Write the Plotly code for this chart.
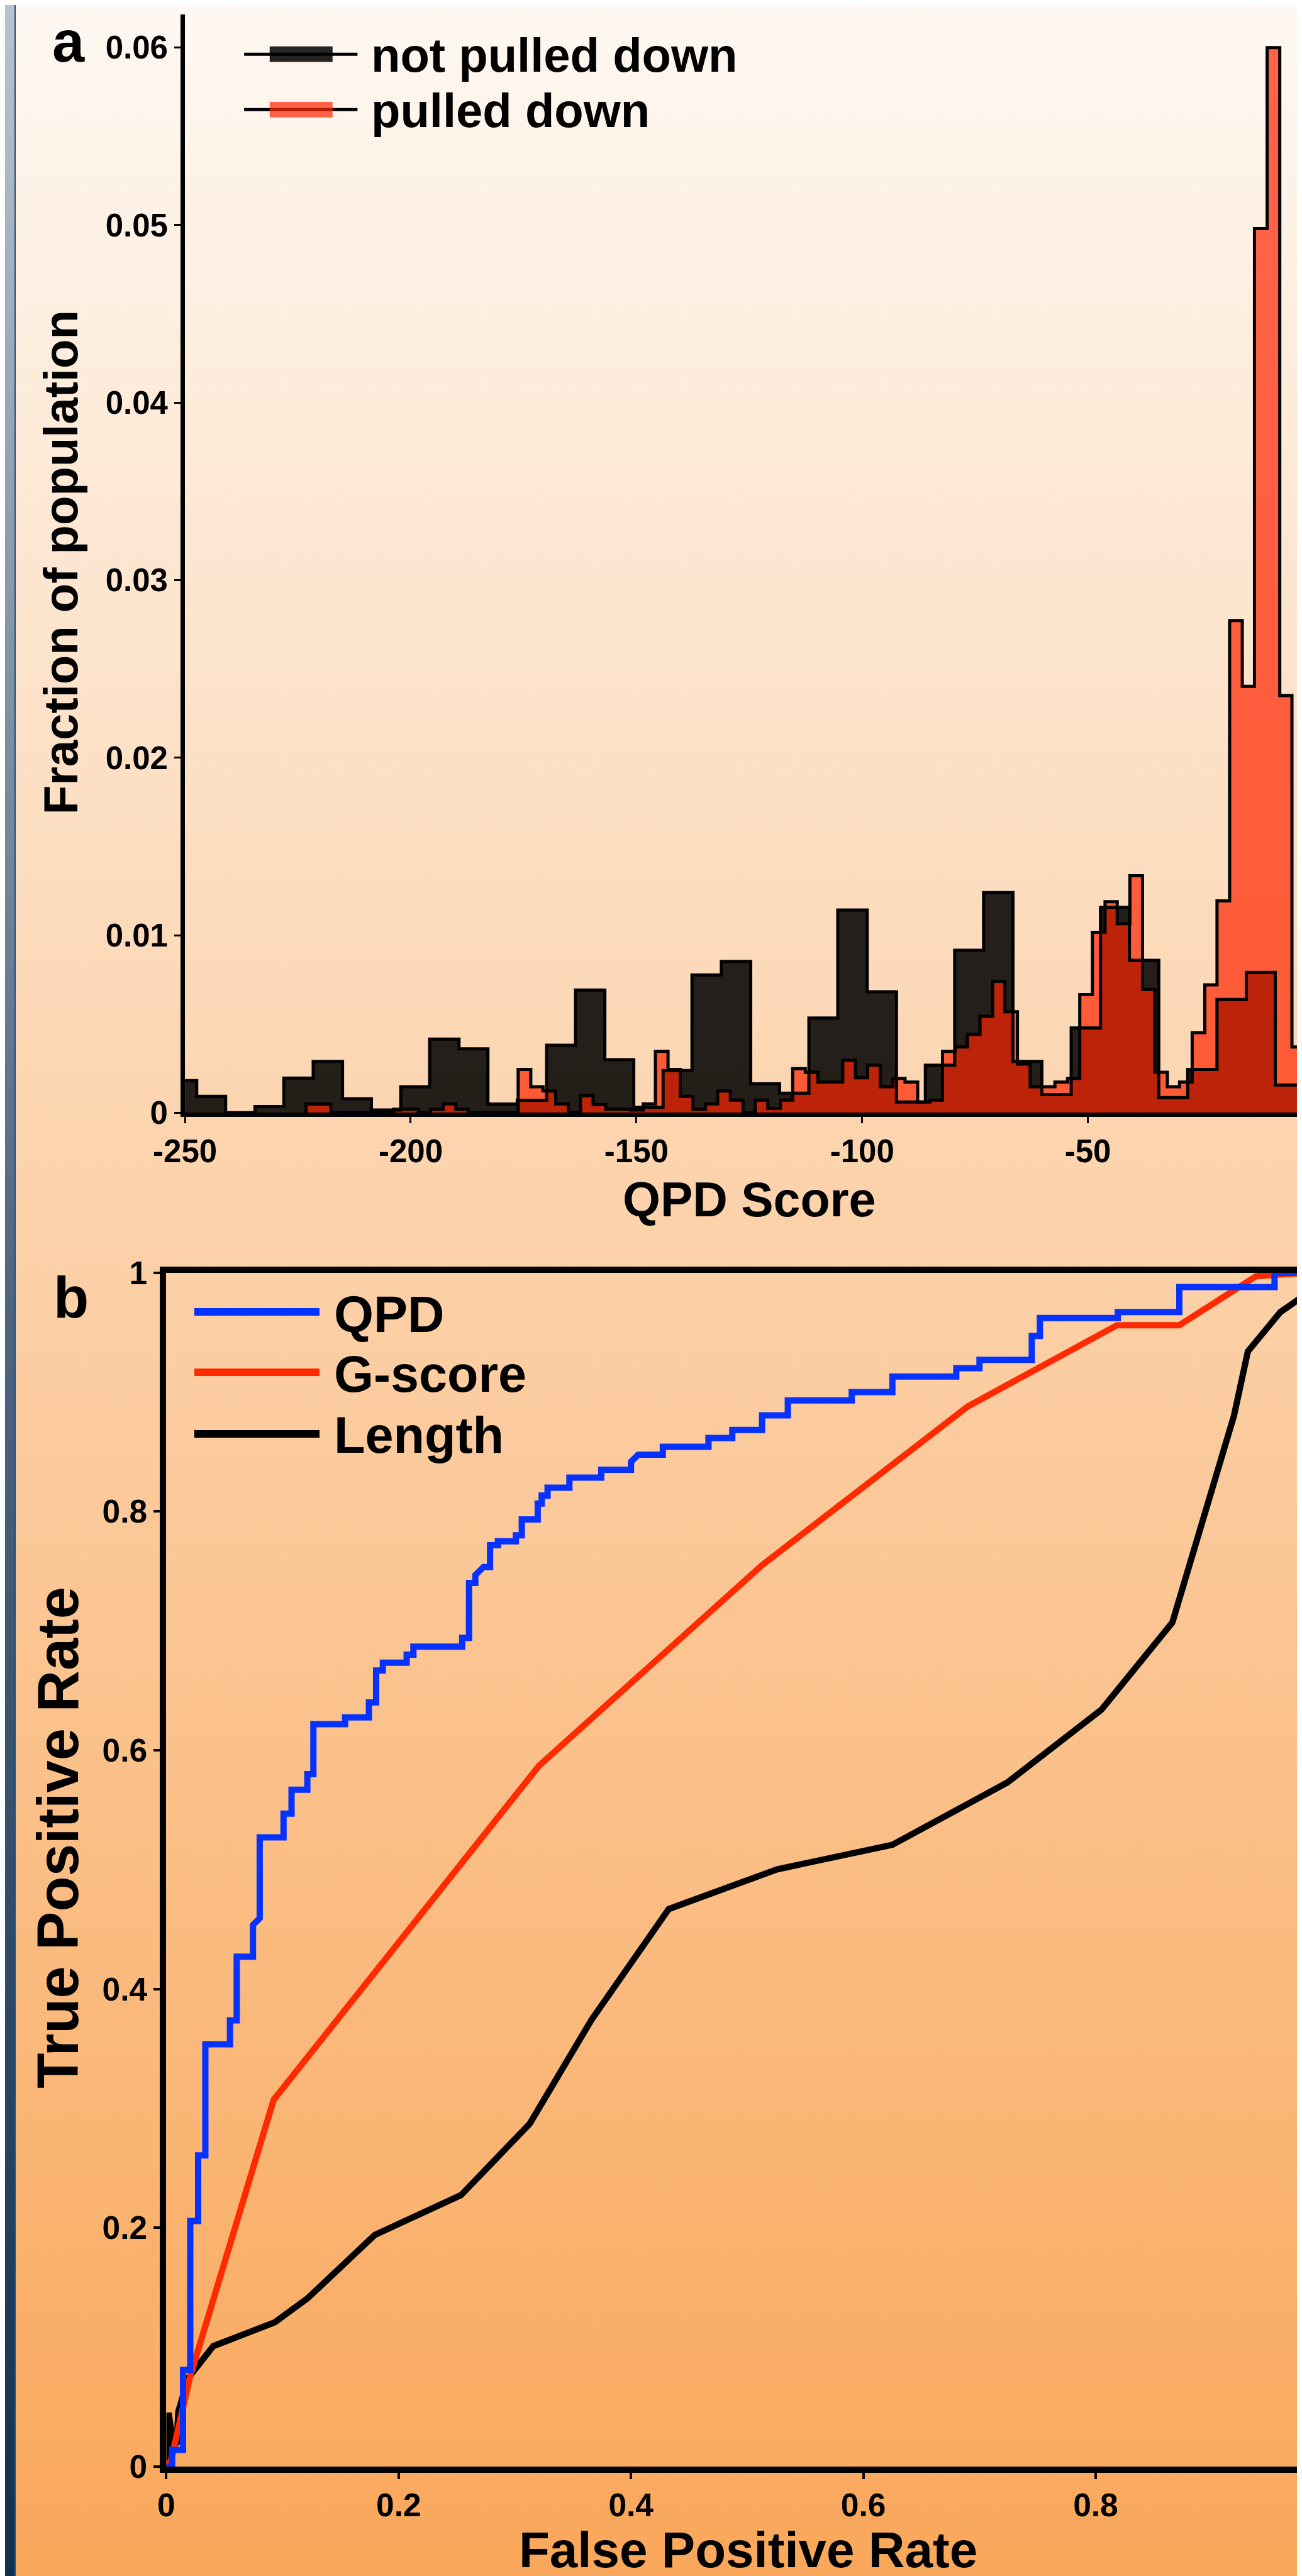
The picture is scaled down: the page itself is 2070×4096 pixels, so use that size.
import base64
import plotly.graph_objects as go

W, H = 2070, 4096
S = 0.99

# ---------------- Panel a data (histograms) ----------------
not_pd_left = [-253.9, -247.4, -241.0, -234.5, -228.1, -221.6, -215.1, -208.7, -202.2, -195.8,
               -189.3, -182.9, -176.4, -169.9, -163.5, -157.0, -150.6, -144.1, -137.7, -131.2,
               -124.7, -118.3, -111.8, -105.4, -98.9, -92.4, -86.0, -79.5, -73.1, -66.6,
               -60.2, -53.7, -47.2, -40.8, -34.3, -27.9, -21.4, -14.9, -8.5, -2.0]
not_pd_right_end = 4.5
not_pd_vals = [0.00181, 0.00092, 0.0, 0.00035, 0.00195, 0.00289, 0.00079, 0.00015, 0.00146, 0.00415,
               0.0036, 0.00049, 0.0007, 0.0038, 0.00691, 0.00299, 0.0003, 0.00238, 0.00776, 0.00852,
               0.00163, 0.0011, 0.00533, 0.01142, 0.00681, 0.0006, 0.00268, 0.00915, 0.0124, 0.00289,
               0.00102, 0.00478, 0.01157, 0.00858, 0.00085, 0.00244, 0.00638, 0.0079, 0.00156, 0.0005]

pd_left = [-223.2, -220.4, -217.7, -214.9, -212.1, -209.4, -206.6, -203.8, -201.1, -198.3,
           -195.6, -192.8, -190.0, -187.3, -184.5, -181.7, -179.0, -176.2, -173.4, -170.7,
           -167.9, -165.1, -162.4, -159.6, -156.8, -154.1, -151.3, -148.5, -145.8, -143.0,
           -140.3, -137.5, -134.7, -132.0, -129.2, -126.4, -123.7, -120.9, -118.1, -115.4,
           -112.6, -109.8, -107.1, -104.3, -101.5, -98.8, -96.0, -93.2, -90.5, -87.7,
           -85.0, -82.2, -79.4, -76.7, -73.9, -71.1, -68.4, -65.6, -62.8, -60.1,
           -57.3, -54.5, -51.8, -49.0, -46.2, -43.5, -40.7, -37.9, -35.2, -32.4,
           -29.7, -26.9, -24.1, -21.4, -18.6, -15.8, -13.1, -10.3, -7.5, -4.8,
           -2.0]
pd_right_end = 0.8
pd_vals = [0.00049, 0.00049, 0.0, 0.0, 0.0, 0.0, 0.0, 0.0002, 0.0002, 0.0,
           0.0002, 0.0005, 0.0002, 0.0, 0.0, 0.0, 0.0, 0.00244, 0.00146, 0.00122,
           0.0005, 0.0, 0.00096, 0.00045, 0.0002, 0.0002, 0.00015, 0.0005, 0.00346, 0.00244,
           0.00091, 0.0002, 0.0005, 0.00122, 0.00071, 0.0, 0.00071, 0.00024, 0.00071, 0.00248,
           0.00228, 0.00173, 0.00173, 0.00295, 0.00197, 0.00268, 0.00146, 0.00193, 0.00173, 0.0006,
           0.00071, 0.00346, 0.0037, 0.00441, 0.00543, 0.0074, 0.00569, 0.00274, 0.00146, 0.00146,
           0.00173, 0.00193, 0.00665, 0.01016, 0.01189, 0.01065, 0.01335, 0.00695, 0.00228, 0.00146,
           0.00173, 0.00451, 0.0072, 0.01193, 0.02772, 0.02402, 0.0498, 0.0600, 0.0235, 0.0037,
           0.0035]

hist_xticks = [-250, -200, -150, -100, -50]
hist_yticks = [0, 0.01, 0.02, 0.03, 0.04, 0.05, 0.06]
hist_yticktext = ['0', '0.01', '0.02', '0.03', '0.04', '0.05', '0.06']

# ---------------- Panel b data (ROC curves) ----------------
qpd_fpr = [0, 0.005, 0.005, 0.0144, 0.0144, 0.0206, 0.0206, 0.0274, 0.0274, 0.0336,
           0.0336, 0.0548, 0.0548, 0.0606, 0.0606, 0.0746, 0.0746, 0.0804, 0.0804, 0.1009,
           0.1009, 0.1078, 0.1078, 0.1214, 0.1214, 0.1266, 0.1266, 0.1539, 0.1539, 0.1744,
           0.1744, 0.1806, 0.1806, 0.1864, 0.1864, 0.2069, 0.2069, 0.2127, 0.2127, 0.2547,
           0.2547, 0.2606, 0.2606, 0.2660, 0.2660, 0.2729, 0.2787, 0.2787, 0.2855, 0.2855,
           0.3009, 0.3009, 0.3060, 0.3060, 0.3197, 0.3197, 0.3231, 0.3231, 0.3282, 0.3282,
           0.3470, 0.3470, 0.3744, 0.3744, 0.4000, 0.4000, 0.4062, 0.4274, 0.4274, 0.4667,
           0.4667, 0.4872, 0.4872, 0.5128, 0.5128, 0.535, 0.535, 0.59, 0.59, 0.625,
           0.625, 0.68, 0.68, 0.70, 0.70, 0.745, 0.745, 0.752, 0.752, 0.819,
           0.819, 0.872, 0.872, 0.954, 0.954, 1.0]
qpd_tpr = [0, 0.0, 0.014, 0.014, 0.081, 0.081, 0.2057, 0.2057, 0.2606, 0.2606,
           0.3538, 0.3538, 0.3738, 0.3738, 0.4271, 0.4271, 0.4537, 0.4593, 0.527, 0.527,
           0.547, 0.547, 0.567, 0.567, 0.580, 0.580, 0.6218, 0.6218, 0.6275, 0.6275,
           0.6401, 0.6401, 0.6668, 0.6668, 0.6734, 0.6734, 0.6801, 0.6801, 0.6868, 0.6868,
           0.6941, 0.6941, 0.7401, 0.7401, 0.7467, 0.7534, 0.7534, 0.7717, 0.7717, 0.7750,
           0.7750, 0.7800, 0.7800, 0.7933, 0.7933, 0.8066, 0.8066, 0.8133, 0.8133, 0.8199,
           0.8199, 0.8283, 0.8283, 0.8349, 0.8349, 0.8416, 0.8476, 0.8476, 0.8542, 0.8542,
           0.8615, 0.8615, 0.8682, 0.8682, 0.8805, 0.8805, 0.893, 0.893, 0.900, 0.900,
           0.913, 0.913, 0.920, 0.920, 0.927, 0.927, 0.947, 0.947, 0.962, 0.962,
           0.967, 0.967, 0.988, 0.988, 1.0, 1.0]

gscore_fpr = [0, 0.004, 0.0206, 0.0924, 0.3207, 0.5128, 0.69, 0.8184, 0.872, 0.938, 0.981, 1.0]
gscore_tpr = [0, 0.005, 0.0759, 0.3072, 0.5869, 0.755, 0.888, 0.956, 0.956, 0.997, 1.0, 1.0]

length_fpr = [0, 0.002, 0.006, 0.009, 0.0103, 0.0189, 0.0404, 0.0934, 0.1214, 0.1795,
              0.2537, 0.3129, 0.3658, 0.4325, 0.5259, 0.625, 0.724, 0.805, 0.866, 0.919,
              0.931, 0.959, 0.981, 1.0]
length_tpr = [0, 0.045, 0.017, 0.02, 0.0459, 0.0742, 0.1009, 0.1209, 0.1408, 0.1941,
              0.2274, 0.2873, 0.3739, 0.467, 0.5003, 0.5208, 0.573, 0.634, 0.707, 0.880,
              0.934, 0.967, 0.982, 1.0]

roc_ticks = [0, 0.2, 0.4, 0.6, 0.8, 1.0]
roc_ticktext = ['0', '0.2', '0.4', '0.6', '0.8', '1']

# ---------------- styling ----------------
FONT = 'Liberation Sans, Arial, Helvetica, sans-serif'
BLACK_FILL = 'rgba(0,0,0,0.86)'
RED_FILL = 'rgba(255,37,2,0.70)'
C_QPD = '#0532FF'
C_G = '#FF2A00'
C_LEN = '#000000'


def px_x(p):   # reference pixel -> paper fraction
    return p * S / W


def px_y(p):
    return 1 - p * S / H


def step_xy(left, right_end, vals):
    xs = [left[0]] + list(left) + [right_end, right_end]
    ys = [0] + list(vals) + [vals[-1], 0]
    return xs, ys


fig = go.Figure()

bx, by = step_xy(not_pd_left, not_pd_right_end, not_pd_vals)
rx, ry = step_xy(pd_left, pd_right_end, pd_vals)

fig.add_trace(go.Scatter(x=bx, y=by, mode='lines', line=dict(shape='hv', width=0, color=BLACK_FILL),
                         fill='tozeroy', fillcolor=BLACK_FILL, xaxis='x', yaxis='y', hoverinfo='skip'))
fig.add_trace(go.Scatter(x=rx, y=ry, mode='lines', line=dict(shape='hv', width=0, color=RED_FILL),
                         fill='tozeroy', fillcolor=RED_FILL, xaxis='x', yaxis='y', hoverinfo='skip'))
fig.add_trace(go.Scatter(x=bx, y=by, mode='lines', line=dict(shape='hv', width=5, color='black'),
                         xaxis='x', yaxis='y', name='not pulled down'))
fig.add_trace(go.Scatter(x=rx, y=ry, mode='lines', line=dict(shape='hv', width=5, color='black'),
                         xaxis='x', yaxis='y', name='pulled down'))

for xs, ys, col, nm in [(length_fpr, length_tpr, C_LEN, 'Length'),
                        (gscore_fpr, gscore_tpr, C_G, 'G-score'),
                        (qpd_fpr, qpd_tpr, C_QPD, 'QPD')]:
    fig.add_trace(go.Scatter(x=xs, y=ys, mode='lines', line=dict(color=col, width=10),
                             xaxis='x2', yaxis='y2', name=nm))

# ---------------- axes ----------------
tickfont_a = dict(family=FONT, size=51, color='black', weight='bold')
tickfont_b = dict(family=FONT, size=51.5, color='black', weight='bold')

fig.update_layout(
    width=W, height=H,
    margin=dict(l=0, r=0, t=0, b=0, pad=0, autoexpand=False),
    paper_bgcolor='#FBD3AE', plot_bgcolor='rgba(0,0,0,0)',
    showlegend=False,
    xaxis=dict(domain=[px_x(289), 1.0], range=[-250, -250 + (W - 289 * S) / (7.25 * S)],
               anchor='y', showline=True, linewidth=7, linecolor='black', ticks='outside',
               ticklen=10, tickwidth=3, tickcolor='black', showgrid=False, zeroline=False,
               tickvals=hist_xticks, ticktext=[str(v) for v in hist_xticks], tickfont=tickfont_a),
    yaxis=dict(domain=[px_y(1779.1), px_y(15)], range=[0, (1779.1 - 15) / 28513],
               anchor='x', showline=True, linewidth=7, linecolor='black', ticks='outside',
               ticklen=10, tickwidth=3, tickcolor='black', showgrid=False, zeroline=False,
               tickvals=hist_yticks, ticktext=hist_yticktext, tickfont=tickfont_a),
    xaxis2=dict(domain=[px_x(259), 1.0], range=[0, (W - 259 * S) / (1865.6 * S)],
                anchor='y2', showline=True, mirror=True, linewidth=10, linecolor='black',
                ticks='outside', ticklen=10, tickwidth=4, tickcolor='black', showgrid=False,
                zeroline=False, tickvals=roc_ticks, ticktext=roc_ticktext, tickfont=tickfont_b,
                ticklabelstandoff=-3),
    yaxis2=dict(domain=[px_y(3953.6), px_y(2036)], range=[0, 1], anchor='x2',
                showline=True, linewidth=10, linecolor='black', ticks='outside', ticklen=10,
                tickwidth=4, tickcolor='black', showgrid=False, zeroline=False,
                tickvals=roc_ticks, ticktext=roc_ticktext, tickfont=tickfont_b),
)

# ---------------- background (gradient + left strip) ----------------
svg = (
    "<svg xmlns='http://www.w3.org/2000/svg' width='2070' height='4096' viewBox='0 0 2070 4096' "
    "preserveAspectRatio='none'><defs>"
    "<linearGradient id='bg' x1='0' y1='0' x2='0' y2='1'>"
    "<stop offset='0' stop-color='#FEF8F2'/><stop offset='1' stop-color='#F9A75A'/></linearGradient>"
    "<linearGradient id='st' x1='0' y1='0' x2='0' y2='1'>"
    "<stop offset='0' stop-color='#B9C3CD'/><stop offset='0.5' stop-color='#4F6681'/>"
    "<stop offset='1' stop-color='#10304F'/></linearGradient></defs>"
    "<rect x='0' y='0' width='2070' height='4096' fill='url(#bg)'/>"
    "<rect x='0' y='0' width='15' height='4096' fill='url(#st)'/>"
    "<rect x='15' y='0' width='2' height='4096' fill='#1D4C7E'/></svg>"
)
src = 'data:image/svg+xml;base64,' + base64.b64encode(svg.encode()).decode()
fig.add_layout_image(dict(source=src, xref='paper', yref='paper', x=0, y=1, sizex=1, sizey=1,
                          xanchor='left', yanchor='top', sizing='stretch', layer='below'))

# ---------------- custom legends ----------------
shapes = []
for yc, fill in [(79, BLACK_FILL), (168, RED_FILL)]:
    shapes.append(dict(type='line', xref='paper', yref='paper', x0=px_x(384), x1=px_x(566),
                       y0=px_y(yc), y1=px_y(yc), line=dict(color='black', width=5)))
    shapes.append(dict(type='rect', xref='paper', yref='paper', x0=px_x(425), x1=px_x(526),
                       y0=px_y(yc - 12.5), y1=px_y(yc + 12.5), fillcolor=fill, line=dict(width=0)))
for yc, col in [(2099, C_QPD), (2196, C_G), (2295, C_LEN)]:
    shapes.append(dict(type='line', xref='paper', yref='paper', x0=px_x(304), x1=px_x(505),
                       y0=px_y(yc), y1=px_y(yc), line=dict(color=col, width=12)))
fig.update_layout(shapes=shapes)


def ann(text, xr, yr, size, xanchor='center', yanchor='middle', angle=0):
    return dict(text=text, x=px_x(xr), y=px_y(yr), xref='paper', yref='paper', showarrow=False,
                xanchor=xanchor, yanchor=yanchor, textangle=angle,
                font=dict(family=FONT, size=size, color='black', weight='bold'))


anns = [
    ann('not pulled down', 586, 80, 76, xanchor='left'),
    ann('pulled down', 586, 169, 76, xanchor='left'),
    ann('QPD', 526, 2103, 81, xanchor='left'),
    ann('G-score', 526, 2199, 81, xanchor='left'),
    ann('Length', 526, 2297, 81, xanchor='left'),
    ann('a', 102, 91 - 0.35 * 92 / S, 92),
    ann('b', 106, 2108 - 0.35 * 92 / S, 92),
    ann('Fraction of population', 89, 895, 76, angle=-90),
    ann('True Positive Rate', 84, 2943, 92, angle=-90),
    ann('QPD Score', 1195, 1945 - 0.35 * 77 / S, 77),
]
# x-axis title of panel b, kept just inside the bottom edge
anns.append(dict(text='False Positive Rate', x=px_x(1193), y=3.0 / H, xref='paper', yref='paper',
                 showarrow=False, xanchor='center', yanchor='bottom',
                 font=dict(family=FONT, size=80, color='black', weight='bold')))
anns.append(dict(text='0', x=0, xref='x', y=px_y(1843 - 0.35 * 51 / S), yref='paper', showarrow=False,
                 xanchor='center', yanchor='middle',
                 font=dict(family=FONT, size=51, color='black', weight='bold')))
fig.update_layout(annotations=anns)

fig.write_html('out.html')
